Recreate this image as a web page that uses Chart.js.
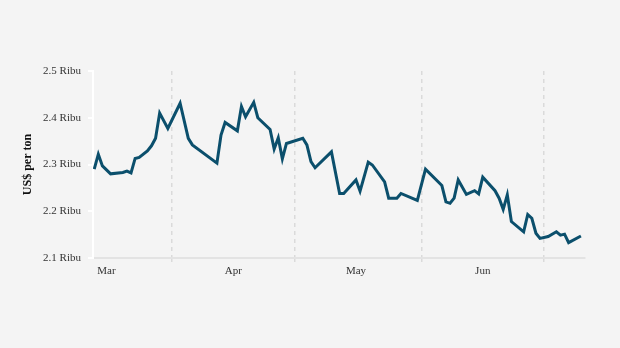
<!DOCTYPE html>
<html>
<head>
<meta charset="utf-8">
<script src="https://cdn.jsdelivr.net/npm/chart.js@4.4.0/dist/chart.umd.min.js"></script>
<style>
  html, body { margin: 0; padding: 0; background: #f4f4f4; }
  canvas { display: block; }
</style>
</head>
<body>
<canvas id="chart" width="620" height="348"></canvas>
<script>
// Daily price, US$ per ton
const dates = [
    '2023-03-13', '2023-03-14', '2023-03-15', '2023-03-17', '2023-03-20', '2023-03-21',
    '2023-03-22', '2023-03-23', '2023-03-24', '2023-03-26', '2023-03-27', '2023-03-28',
    '2023-03-29', '2023-03-31', '2023-04-03', '2023-04-05', '2023-04-06', '2023-04-12',
    '2023-04-13', '2023-04-14', '2023-04-17', '2023-04-18', '2023-04-19', '2023-04-21',
    '2023-04-22', '2023-04-25', '2023-04-26', '2023-04-27', '2023-04-28', '2023-04-29',
    '2023-05-03', '2023-05-04', '2023-05-05', '2023-05-06', '2023-05-10', '2023-05-12',
    '2023-05-13', '2023-05-16', '2023-05-17', '2023-05-19', '2023-05-20', '2023-05-23',
    '2023-05-24', '2023-05-26', '2023-05-27', '2023-05-31', '2023-06-02', '2023-06-06',
    '2023-06-07', '2023-06-08', '2023-06-09', '2023-06-10', '2023-06-12', '2023-06-14',
    '2023-06-15', '2023-06-16', '2023-06-19', '2023-06-20', '2023-06-21', '2023-06-22',
    '2023-06-23', '2023-06-26', '2023-06-27', '2023-06-28', '2023-06-29', '2023-06-30',
    '2023-07-02', '2023-07-04', '2023-07-05', '2023-07-06', '2023-07-07', '2023-07-10'
];
const prices = [
    2290, 2322, 2297, 2280, 2283, 2286,
    2282, 2313, 2315, 2329, 2340, 2356,
    2410, 2377, 2431, 2356, 2342, 2303,
    2363, 2390, 2372, 2424, 2402, 2433,
    2400, 2375, 2333, 2357, 2312, 2345,
    2356, 2342, 2306, 2293, 2327, 2238,
    2238, 2267, 2243, 2305, 2299, 2263,
    2228, 2228, 2238, 2223, 2290, 2255,
    2220, 2217, 2228, 2267, 2236, 2244,
    2237, 2273, 2244, 2228, 2204, 2235,
    2178, 2156, 2193, 2185, 2153, 2142,
    2146, 2156, 2149, 2151, 2133, 2147
];

// Month boundaries get a dashed gridline, month names sit mid-month
const monthStarts = ['2023-04-01', '2023-05-01', '2023-06-01', '2023-07-01'];
const monthLabels = ['Mar', 'Apr', 'May', 'Jun'];
const monthMids = ['2023-03-16', '2023-04-16', '2023-05-16', '2023-06-16'];
const yTicks = [2100, 2200, 2300, 2400, 2500];

const dayNum = (s) => {
    const [y, m, d] = s.split('-').map(Number);
    return Date.UTC(y, m - 1, d) / 864e5;
};

const startDays = monthStarts.map(dayNum);
const labelByDay = new Map(monthMids.map((d, i) => [dayNum(d), monthLabels[i]]));
const tickDays = [...startDays, ...labelByDay.keys()].sort((a, b) => a - b);

const serif = 'Liberation Serif';
const textColor = '#333333';

new Chart(document.getElementById('chart'), {
    type: 'line',
    data: {
        datasets: [{
            data: dates.map((d, i) => ({ x: dayNum(d), y: prices[i] })),
            borderColor: '#0b4f6c',
            borderWidth: 3,
            pointRadius: 0,
            tension: 0
        }]
    },
    options: {
        responsive: false,
        animation: false,
        layout: { padding: { top: 71, right: 35, bottom: 0, left: 0 } },
        plugins: {
            legend: { display: false },
            tooltip: { enabled: false }
        },
        scales: {
            x: {
                type: 'linear',
                min: dayNum(dates[0]) - 0.3,
                max: dayNum(dates[dates.length - 1]) + 1,
                afterBuildTicks: (scale) => {
                    scale.ticks = tickDays.map(v => ({ value: v }));
                },
                afterFit: (scale) => { scale.height = 90; },
                ticks: {
                    autoSkip: false,
                    maxRotation: 0,
                    padding: 3,
                    color: textColor,
                    font: { family: serif, size: 11 },
                    callback: (value) => labelByDay.get(value) || ''
                },
                grid: {
                    color: (ctx) => startDays.includes(ctx.tick && ctx.tick.value) ? '#dadada' : 'transparent',
                    lineWidth: 1.5,
                    tickLength: 4
                },
                border: { color: '#e3e3e3', width: 2, dash: [4, 4] }
            },
            y: {
                min: 2100,
                max: 2500,
                afterBuildTicks: (scale) => {
                    scale.ticks = yTicks.map(v => ({ value: v }));
                },
                afterFit: (scale) => { scale.width = 93; },
                ticks: {
                    padding: 7,
                    color: textColor,
                    font: { family: serif, size: 11 },
                    callback: (value) => (value / 1000).toFixed(1) + ' Ribu'
                },
                grid: {
                    drawOnChartArea: false,
                    color: '#ffffff',
                    lineWidth: 2,
                    tickLength: 5
                },
                border: { color: '#ffffff', width: 2 },
                title: {
                    display: true,
                    text: 'US$ per ton',
                    color: '#111111',
                    font: { family: serif, size: 12, weight: 'bold' },
                    padding: { top: 21, bottom: 0 }
                }
            }
        }
    }
});
</script>
</body>
</html>
